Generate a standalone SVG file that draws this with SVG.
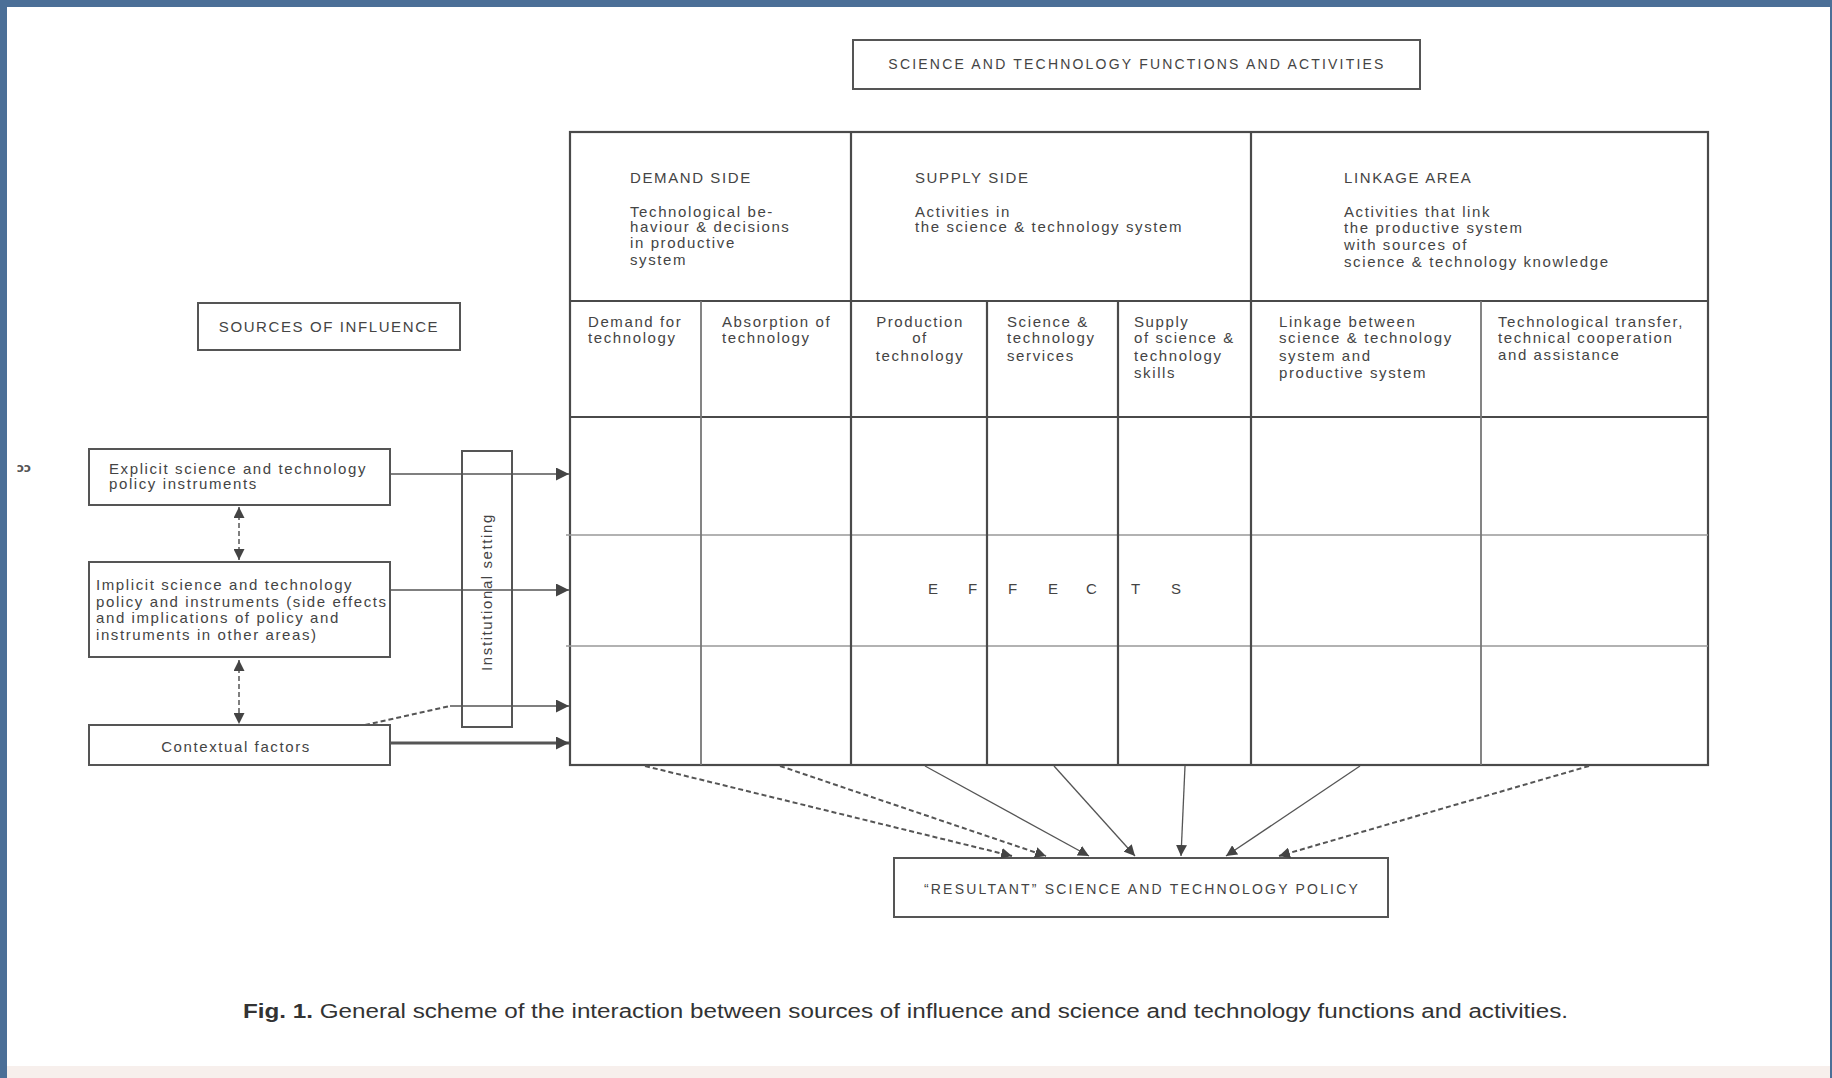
<svg xmlns="http://www.w3.org/2000/svg" width="1832" height="1078" viewBox="0 0 1832 1078">
<style>
.t{font-family:"Liberation Sans",Arial,sans-serif;font-size:15px;letter-spacing:1.6px;fill:#444}
.cap{font-family:"Liberation Sans",Arial,sans-serif;font-size:14px;letter-spacing:2.2px;fill:#444}
.box{fill:none;stroke:#555;stroke-width:2}
.grid{stroke:#4a4a4a;stroke-width:2.2;fill:none}
.light{stroke:#999;stroke-width:1.5;fill:none}
.mid{stroke:#777;stroke-width:1.8;fill:none}
.conn{stroke:#555;stroke-width:1.6;fill:none}
.dash{stroke:#555;stroke-width:2;fill:none;stroke-dasharray:5 3}
.thin{stroke:#555;stroke-width:1.3;fill:none}
</style>
<defs>
<marker id="ah" markerWidth="14" markerHeight="13" refX="13" refY="6.5" orient="auto" markerUnits="userSpaceOnUse">
<path d="M0,0 L13,6.5 L0,13 z" fill="#444"/>
</marker>
<marker id="ahs" markerWidth="12" markerHeight="11" refX="11" refY="5.5" orient="auto" markerUnits="userSpaceOnUse">
<path d="M0,0 L11,5.5 L0,11 z" fill="#444"/>
</marker>
<marker id="ahstart" markerWidth="12" markerHeight="11" refX="0" refY="5.5" orient="auto" markerUnits="userSpaceOnUse">
<path d="M11,0 L0,5.5 L11,11 z" fill="#444"/>
</marker>
</defs>
<!-- page frame -->
<rect x="0" y="0" width="1832" height="1078" fill="#4b6f97"/>
<rect x="7" y="7" width="1823" height="1071" fill="#ffffff"/>
<rect x="7" y="1066" width="1823" height="12" fill="#f7efec"/>
<text x="17" y="472" font-family="DejaVu Sans,sans-serif" font-size="12" font-weight="bold" fill="#555">ɔɔ</text>

<g id="title">
<rect class="box" x="853" y="40" width="567" height="49"/>
<text class="cap" x="1137" y="69" text-anchor="middle">SCIENCE AND TECHNOLOGY FUNCTIONS AND ACTIVITIES</text>
</g>

<g id="table">
<rect class="grid" x="570" y="132" width="1138" height="633"/>
<line class="grid" x1="570" y1="301" x2="1708" y2="301"/>
<line class="grid" x1="570" y1="417" x2="1708" y2="417"/>
<line class="light" x1="566" y1="535" x2="1708" y2="535"/>
<line class="light" x1="566" y1="646" x2="1708" y2="646"/>
<line class="grid" x1="851" y1="132" x2="851" y2="765"/>
<line class="grid" x1="1251" y1="132" x2="1251" y2="765"/>
<line class="mid" x1="701" y1="301" x2="701" y2="765"/>
<line class="grid" x1="987" y1="301" x2="987" y2="765"/>
<line class="grid" x1="1118" y1="301" x2="1118" y2="765"/>
<line class="mid" x1="1481" y1="301" x2="1481" y2="765"/>
</g>

<g id="demand-side">
<text class="t" x="630" y="183">DEMAND SIDE</text>
<text class="t" x="630" y="217">Technological be-</text>
<text class="t" x="630" y="232">haviour &amp; decisions</text>
<text class="t" x="630" y="248">in productive</text>
<text class="t" x="630" y="265">system</text>
</g>
<g id="supply-side">
<text class="t" x="915" y="183">SUPPLY SIDE</text>
<text class="t" x="915" y="217">Activities in</text>
<text class="t" x="915" y="232">the science &amp; technology system</text>
</g>
<g id="linkage-area">
<text class="t" x="1344" y="183">LINKAGE AREA</text>
<text class="t" x="1344" y="217">Activities that link</text>
<text class="t" x="1344" y="233">the productive system</text>
<text class="t" x="1344" y="250">with sources of</text>
<text class="t" x="1344" y="267">science &amp; technology knowledge</text>
</g>

<g id="col-demand">
<text class="t" x="588" y="327">Demand for</text>
<text class="t" x="588" y="343">technology</text>
</g>
<g id="col-absorption">
<text class="t" x="722" y="327">Absorption of</text>
<text class="t" x="722" y="343">technology</text>
</g>
<g id="col-production">
<text class="t" x="920" y="327" text-anchor="middle">Production</text>
<text class="t" x="920" y="343" text-anchor="middle">of</text>
<text class="t" x="920" y="361" text-anchor="middle">technology</text>
</g>
<g id="col-services">
<text class="t" x="1007" y="327">Science &amp;</text>
<text class="t" x="1007" y="343">technology</text>
<text class="t" x="1007" y="361">services</text>
</g>
<g id="col-skills">
<text class="t" x="1134" y="327">Supply</text>
<text class="t" x="1134" y="343">of science &amp;</text>
<text class="t" x="1134" y="361">technology</text>
<text class="t" x="1134" y="378">skills</text>
</g>
<g id="col-linkage">
<text class="t" x="1279" y="327">Linkage between</text>
<text class="t" x="1279" y="343">science &amp; technology</text>
<text class="t" x="1279" y="361">system and</text>
<text class="t" x="1279" y="378">productive system</text>
</g>
<g id="col-transfer">
<text class="t" x="1498" y="327">Technological transfer,</text>
<text class="t" x="1498" y="343">technical cooperation</text>
<text class="t" x="1498" y="360">and assistance</text>
</g>

<g id="effects">
<text class="t" y="594" x="928 948 968 988 1008 1028 1048 1068 1086 1108 1131 1151 1171" style="letter-spacing:0">E F F E C T S</text>
</g>

<g id="sources-of-influence">
<rect class="box" x="198" y="303" width="262" height="47"/>
<text class="t" x="329" y="332" text-anchor="middle">SOURCES OF INFLUENCE</text>
</g>
<g id="explicit">
<rect class="box" x="89" y="449" width="301" height="56"/>
<text class="t" x="109" y="474">Explicit science and technology</text>
<text class="t" x="109" y="489">policy instruments</text>
</g>
<g id="implicit">
<rect class="box" x="89" y="562" width="301" height="95"/>
<text class="t" x="96" y="590">Implicit science and technology</text>
<text class="t" x="96" y="607">policy and instruments (side effects</text>
<text class="t" x="96" y="623">and implications of policy and</text>
<text class="t" x="96" y="640">instruments in other areas)</text>
</g>
<g id="contextual">
<rect class="box" x="89" y="725" width="301" height="40"/>
<text class="t" x="236" y="752" text-anchor="middle">Contextual factors</text>
</g>
<g id="institutional-setting">
<rect class="box" x="462" y="451" width="50" height="276"/>
<text class="t" x="0" y="0" text-anchor="middle" transform="translate(492,592) rotate(-90)">Institutional setting</text>
</g>
<g id="resultant">
<rect class="box" x="894" y="858" width="494" height="59"/>
<text class="cap" x="1142" y="894" text-anchor="middle">“RESULTANT” SCIENCE AND TECHNOLOGY POLICY</text>
</g>

<g id="connectors">
<line class="conn" x1="390" y1="474" x2="569" y2="474" marker-end="url(#ah)"/>
<line class="conn" x1="390" y1="590" x2="569" y2="590" marker-end="url(#ah)"/>
<path class="dash" d="M365,725 L450,706"/>
<line class="conn" x1="450" y1="706" x2="569" y2="706" marker-end="url(#ah)"/>
<line class="conn" x1="390" y1="743" x2="569" y2="743" style="stroke-width:3" marker-end="url(#ah)"/>
<line class="dash" x1="239" y1="507" x2="239" y2="560" style="stroke-width:1.5" marker-start="url(#ahstart)" marker-end="url(#ahs)"/>
<line class="dash" x1="239" y1="660" x2="239" y2="724" style="stroke-width:1.5" marker-start="url(#ahstart)" marker-end="url(#ahs)"/>
<line class="dash" x1="645" y1="766" x2="1012" y2="856" marker-end="url(#ahs)"/>
<line class="dash" x1="780" y1="766" x2="1046" y2="856" marker-end="url(#ahs)"/>
<line class="thin" x1="925" y1="766" x2="1089" y2="856" marker-end="url(#ahs)"/>
<line class="thin" x1="1054" y1="766" x2="1135" y2="856" marker-end="url(#ahs)"/>
<line class="thin" x1="1185" y1="766" x2="1181" y2="856" marker-end="url(#ahs)"/>
<line class="thin" x1="1360" y1="766" x2="1226" y2="856" marker-end="url(#ahs)"/>
<line class="dash" x1="1589" y1="766" x2="1279" y2="856" marker-end="url(#ahs)"/>
</g>

<text x="243" y="1018" font-family="Liberation Sans,Arial,sans-serif" font-size="20" fill="#333" textLength="1325" lengthAdjust="spacingAndGlyphs"><tspan font-weight="bold">Fig. 1.</tspan> General scheme of the interaction between sources of influence and science and technology functions and activities.</text>
</svg>
